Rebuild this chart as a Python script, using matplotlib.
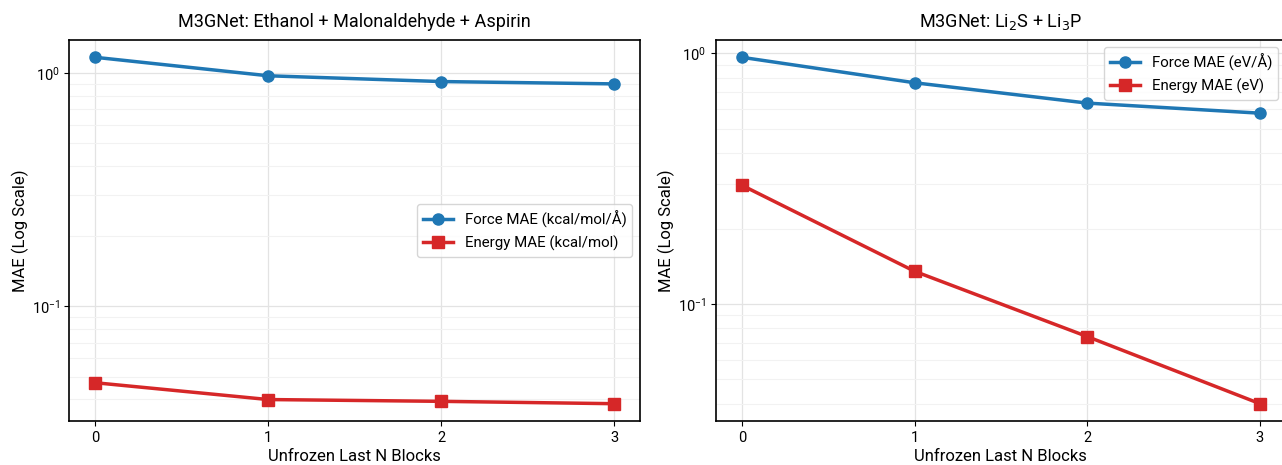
import matplotlib
matplotlib.use("Agg")
import matplotlib.pyplot as plt

# unfrozen last N blocks
blocks = [0, 1, 2, 3]

# ethanol + malonaldehyde + aspirin (kcal/mol units)
mol_force = [1.17, 0.975, 0.921, 0.90]
mol_energy = [0.0471, 0.0399, 0.0392, 0.0383]

# Li2S + Li3P (eV units)
li_force = [0.964, 0.763, 0.633, 0.577]
li_energy = [0.2975, 0.135, 0.0741, 0.040]

BLUE = "#1f77b4"
RED = "#d62728"

plt.rcParams.update({
    "font.family": ["Roboto", "DejaVu Sans"],
    "font.size": 10,
    "axes.linewidth": 1.2,
    "mathtext.fontset": "dejavusans",
})

fig = plt.figure(figsize=(12.82, 4.65), dpi=100)
ax1 = fig.add_axes([0.0541, 0.0946, 0.4451, 0.8194])
ax2 = fig.add_axes([0.5585, 0.0946, 0.4445, 0.8194])

panels = [
    (ax1, mol_force, mol_energy, "M3GNet: Ethanol + Malonaldehyde + Aspirin",
     "Force MAE (kcal/mol/Å)", "Energy MAE (kcal/mol)", "center right"),
    (ax2, li_force, li_energy, "M3GNet: Li$_2$S + Li$_3$P",
     "Force MAE (eV/Å)", "Energy MAE (eV)", "upper right"),
]

for ax, force, energy, title, flab, elab, loc in panels:
    ax.plot(blocks, force, "-o", color=BLUE, lw=2.5, ms=8, label=flab)
    ax.plot(blocks, energy, "-s", color=RED, lw=2.5, ms=8, label=elab)
    ax.set_yscale("log")
    ax.set_xticks(blocks)
    ax.grid(True, which="major", color="#e3e3e3", lw=0.9)
    ax.grid(True, which="minor", axis="y", color="#f2f2f2", lw=0.8)
    ax.set_axisbelow(True)
    ax.tick_params(which="minor", length=0)
    ax.tick_params(which="major", labelsize=10.5)
    ax.set_title(title, fontsize=13, pad=9)
    ax.set_xlabel("Unfrozen Last N Blocks", fontsize=12, labelpad=3)
    ax.set_ylabel("MAE (Log Scale)", fontsize=12, labelpad=2)
    leg = ax.legend(loc=loc, fontsize=10.8, frameon=True, fancybox=True)
    leg.get_frame().set_edgecolor("#cccccc")

fig.savefig("out.png", dpi=100)
